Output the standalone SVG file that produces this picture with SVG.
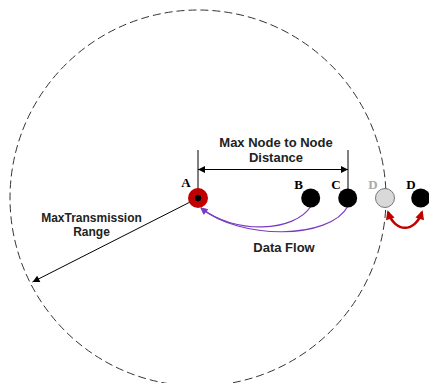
<svg xmlns="http://www.w3.org/2000/svg" width="429" height="383" viewBox="0 0 429 383">
<style>
.lbl{font-family:"Liberation Sans",Arial,sans-serif;font-weight:bold;font-size:13px;fill:#222;text-anchor:middle}
.sm{font-size:12px}
.nl{font-family:"Liberation Serif","Times New Roman",serif;font-weight:bold;font-size:13px;text-anchor:middle}
.node{fill:#000}
</style>
<defs>
<marker id="blk" viewBox="0 0 10 10" refX="10" refY="5" markerWidth="10" markerHeight="7" markerUnits="userSpaceOnUse" orient="auto-start-reverse"><path d="M0,0 L10,5 L0,10 z" fill="#000"/></marker>
<marker id="pur" viewBox="0 0 10 10" refX="9" refY="5" markerWidth="9" markerHeight="7" markerUnits="userSpaceOnUse" orient="auto"><path d="M0,0 L10,5 L0,10 z" fill="#7a3cc0"/></marker>
<marker id="red" viewBox="0 0 10 10" refX="8" refY="5" markerWidth="10" markerHeight="9" markerUnits="userSpaceOnUse" orient="auto-start-reverse"><path d="M0,0 L10,5 L0,10 z" fill="#c00000"/></marker>
</defs>
<rect width="429" height="383" fill="#fff"/>
<circle id="range" cx="198" cy="198" r="188" fill="none" stroke="#333" stroke-width="1" stroke-dasharray="8,4"/>
<g id="connectors">
<line x1="198" y1="150" x2="198" y2="189" stroke="#000" stroke-width="1"/>
<line x1="348" y1="150" x2="348" y2="189" stroke="#000" stroke-width="1"/>
<line x1="198" y1="169.5" x2="348" y2="169.5" stroke="#000" stroke-width="1.2" marker-start="url(#blk)" marker-end="url(#blk)"/>
<line x1="198" y1="198" x2="32.5" y2="282" stroke="#000" stroke-width="1" marker-end="url(#blk)"/>
<path d="M311 206 C295 232 235 235 201 208" fill="none" stroke="#7a3cc0" stroke-width="1.2" marker-end="url(#pur)"/>
<path d="M348 206 C330 240 240 240 201 208" fill="none" stroke="#7a3cc0" stroke-width="1.2" marker-end="url(#pur)"/>
<path d="M388 212 C395 233 415 233 422 212" fill="none" stroke="#c00000" stroke-width="2.5" marker-start="url(#red)" marker-end="url(#red)"/>
</g>
<g id="nodeA">
<circle cx="198" cy="198" r="10" fill="#c00000"/>
<circle cx="198" cy="198" r="3.2" fill="#000"/>
<text class="nl" x="186" y="187" fill="#000">A</text>
</g>
<g id="nodeB">
<circle class="node" cx="310.7" cy="198" r="9.5"/>
<text class="nl" x="298.5" y="189" fill="#000">B</text>
</g>
<g id="nodeC">
<circle class="node" cx="347.7" cy="198" r="9.5"/>
<text class="nl" x="336" y="189" fill="#000">C</text>
</g>
<g id="nodeDold">
<circle cx="385" cy="198" r="9.5" fill="#d9d9d9" stroke="#777" stroke-width="1"/>
<text class="nl" x="373" y="189" fill="#aaa">D</text>
</g>
<g id="nodeD">
<circle class="node" cx="420.7" cy="198" r="9.5"/>
<text class="nl" x="411" y="189" fill="#000">D</text>
</g>
<text class="lbl" x="276" y="146.5">Max Node to Node</text>
<text class="lbl" x="276" y="162">Distance</text>
<text class="lbl sm" x="91.5" y="222">MaxTransmission</text>
<text class="lbl sm" x="91.5" y="236">Range</text>
<text class="lbl" x="284" y="252">Data Flow</text>
</svg>
